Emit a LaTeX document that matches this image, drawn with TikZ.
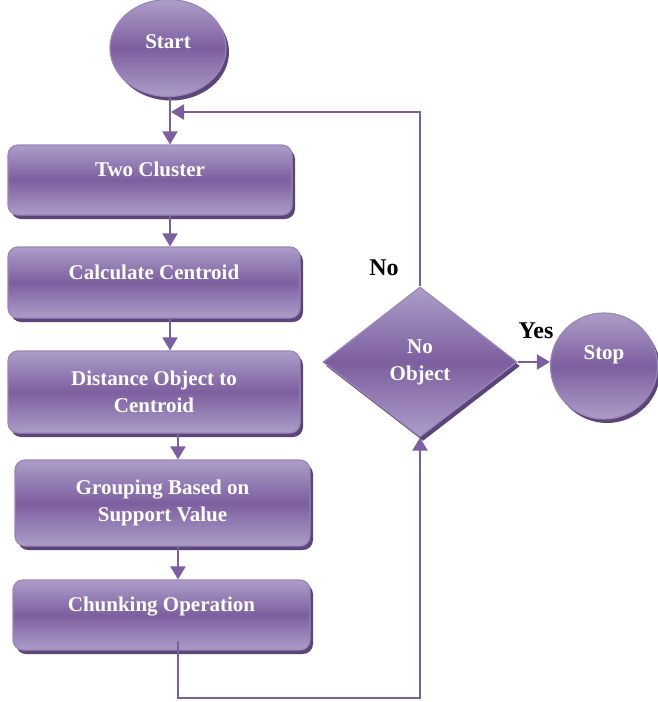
\documentclass[tikz,border=0pt]{standalone}
\usepackage{fontspec}
\setmainfont{Liberation Serif}
\usetikzlibrary{arrows.meta,shapes.geometric,shadows}
\definecolor{flowpurple}{HTML}{7D5F9F}
\definecolor{lightpurple}{HTML}{AD9DC9}
\definecolor{darkpurple}{HTML}{5B4579}
\definecolor{rimpurple}{HTML}{9A85B9}

\begin{document}
\begin{tikzpicture} [
                x=1pt, y=-1pt,
                shaded/.style={top color=lightpurple, bottom color=lightpurple, middle color=flowpurple,
                    draw=rimpurple, line width=1.2pt, text=white, align=center,
                    font=\fontsize{21}{27}\selectfont\bfseries,
                    drop shadow={shadow xshift=3pt, shadow yshift=-4pt, fill=darkpurple, opacity=1}},
                block/.style={shaded, rectangle, rounded corners=10pt, inner sep=0pt},
                oneline/.style={text height=14pt, text depth=21pt},
                terminal/.style={shaded, ellipse, inner sep=0pt},
                decision/.style={shaded, diamond, inner sep=0pt, minimum width=194pt, minimum height=150pt},
                flow/.style={draw=flowpurple, line width=2.2pt, -{Triangle[width=15pt,length=13pt]}},
                answer/.style={font=\fontsize{24}{24}\selectfont\bfseries},
            ]
            \useasboundingbox (0,0) rectangle (658,702);
            % columns of the down arrows
            \coordinate (colA) at (170,0);
            \coordinate (colB) at (178,0);
            \coordinate (loopin) at (171,112);
            % end points
            \node[terminal, minimum width=116pt, minimum height=97pt, text height=14pt, text depth=14pt]
                (start) at (168,48) {Start};
            \node[terminal, minimum width=107pt, minimum height=106pt, text height=14pt, text depth=27pt]
                (stop) at (604,366) {Stop};
            % process steps
            \foreach \pos/\name/\w/\h/\extra/\txt in {
                    {(150,180)/two/284/70/oneline/Two Cluster},
                    {(154,282.5)/calc/292/71/oneline/Calculate Centroid},
                    {(154,392)/dist/292/82//Distance Object to\\Centroid},
                    {(162.5,503)/group/295/86//Grouping Based on\\Support Value},
                    {(161.5,615)/chunk/297/70/oneline/Chunking Operation}}
                \node[block, minimum width=\w pt, minimum height=\h pt, \extra] (\name) at \pos {\txt};
            \node[decision] (nobj) at (420,362) {No\\Object};
            \foreach \source/ \dest/ \col in {
                    start/two/colA, two/calc/colA, calc/dist/colA, dist/group/colB, group/chunk/colB}
                \draw[flow] (\source.south -| \col) -- (\dest.north -| \col);
            \draw[flow] (nobj.east) -- (nobj.east -| stop.west);
            \draw[flow] (nobj.north) |- (loopin);
            \draw[flow] ([yshift=10pt]chunk.south -| colB) -- ++(0,57) -| (nobj.south);
            \node[answer] (nolabel) at (384,268) {No};
            \node[answer] (yeslabel) at (536,331) {Yes};
        \end{tikzpicture}
\end{document}
